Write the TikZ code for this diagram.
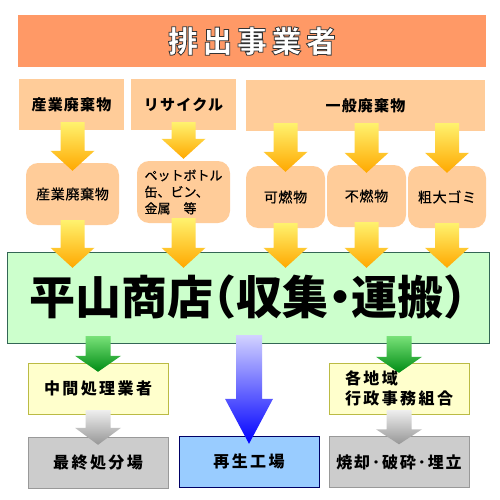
\documentclass[tikz,border=0pt]{standalone}
\usepackage{fontspec}
\setmainfont{Noto Sans CJK JP}
\usetikzlibrary{calc}

\definecolor{bannerorange}{HTML}{FF9966}
\definecolor{peach}{HTML}{FFCC99}
\definecolor{shopgreen}{HTML}{CCFFCC}
\definecolor{shopedge}{HTML}{336655}
\definecolor{midyellow}{HTML}{FFFFCC}
\definecolor{midedge}{HTML}{BBBB44}
\definecolor{endgray}{HTML}{CCCCCC}
\definecolor{endedge}{HTML}{999999}
\definecolor{plantblue}{HTML}{99CCFF}
\definecolor{plantedge}{HTML}{000066}

\newcommand{\bannerfont}{\bfseries\fontsize{30}{32}\selectfont\addfontfeature{LetterSpace=15}}
\newcommand{\catfont}{\bfseries\fontsize{15}{17}\selectfont\addfontfeature{LetterSpace=8}}
\newcommand{\wastefont}{\fontsize{14}{16.5}\selectfont\addfontfeature{LetterSpace=5,FakeBold=0.6}}
\newcommand{\shopfont}{\bfseries\fontsize{46}{48}\selectfont\addfontfeature{CharacterWidth=AlternateHalf}}
\newcommand{\destfont}{\bfseries\fontsize{16}{20}\selectfont\addfontfeature{LetterSpace=15}}
% white letters with a dark rim
\newcommand{\rimtext}[1]{\special{pdf:literal direct 2 Tr 0.8 w 0.2 0.2 0.2 RG}#1\special{pdf:literal direct 0 Tr}}

% block arrow: [shade] {top} {tip} {half shaft} {half head} {head length}
\newcommand{\fatarrow}[6][]{%
  \shade[#1] let \p1=(#2), \p2=(#3) in
    (\x1-#4,\y1) -- (\x1+#4,\y1) -- (\x1+#4,\y2+#6) -- (\x1+#5,\y2+#6)
    -- (\x1,\y2) -- (\x1-#5,\y2+#6) -- (\x1-#4,\y2+#6) -- cycle;
}

\begin{document}
\begin{tikzpicture}[x=1pt, y=-1pt,
  box/.style={inner sep=0pt, minimum height=51pt},
  bannerbox/.style={box, fill=bannerorange, minimum width=468pt, minimum height=52pt, text=white, font=\bannerfont},
  catbox/.style={box, fill=peach, font=\catfont},
  wastebox/.style={box, fill=peach, rounded corners=12pt, minimum height=62pt, font=\wastefont},
  shopbox/.style={box, fill=shopgreen, draw=shopedge, minimum width=482pt, minimum height=91pt, font=\shopfont},
  destbox/.style={box, minimum width=140pt, font=\destfont},
  yellowarrow/.style={top color={rgb,255:red,255;green,242;blue,110}, bottom color={rgb,255:red,255;green,168;blue,0}},
  greenarrow/.style={top color={rgb,255:red,120;green,225;blue,120}, bottom color={rgb,255:red,0;green,140;blue,20}},
  grayarrow/.style={top color={rgb,255:red,238;green,238;blue,238}, bottom color={rgb,255:red,150;green,150;blue,150}},
  bluearrow/.style={top color={rgb,255:red,210;green,210;blue,255}, bottom color={rgb,255:red,0;green,0;blue,255}}
]
\path[use as bounding box, fill=white] (0,0) rectangle (500,500);

\node[bannerbox] (banner) at (252,41) {\rimtext{排出事業者}};

\node[catbox, minimum width=105pt] (indW) at (71.5,104.5) {産業廃棄物};
\node[catbox, minimum width=105pt] (recyc) at (183.5,104.5) {リサイクル};
\node[catbox, minimum width=239pt] (genW) at (365.5,105.5) {一般廃棄物};

\node[wastebox, minimum width=93pt] (rbA) at (72.5,194) {産業廃棄物};
\node[wastebox, minimum width=93pt, align=left, font=\fontsize{13}{16.5}\selectfont\addfontfeature{FakeBold=0.6}] (rbB) at (183.5,192) {ペットボトル\\缶、ビン、\\金属　等};
\node[wastebox, minimum width=79pt] (rbC) at (285.5,197) {可燃物};
\node[wastebox, minimum width=79pt] (rbD) at (366.5,196) {不燃物};
\node[wastebox, minimum width=78pt] (rbE) at (447,197) {粗大ゴミ};

\node[shopbox] (shop) at (248,297.5) {平山商店（収集・運搬）};

\node[destbox, fill=midyellow, draw=midedge] (midP) at (98,388.5) {中間処理業者};
\node[destbox, fill=midyellow, draw=midedge, align=left] (union) at (399,388.5) {各地域\\行政事務組合};
\node[destbox, fill=endgray, draw=endedge] (finalL) at (98,462.5) {最終処分場};
\node[destbox, fill=plantblue, draw=plantedge] (plant) at (249,461.5) {再生工場};
\node[destbox, fill=endgray, draw=endedge, font=\bfseries\fontsize{16}{20}\selectfont\addfontfeature{LetterSpace=12}] (burn) at (399,462) {焼却･破砕･埋立};

% arrows
\foreach \w/\s/\d in {rbA/indW/8, rbB/recyc/-2, rbC/genW/6, rbD/genW/8, rbE/genW/7} {
  \fatarrow[yellowarrow]{$(\w.north |- \s.south)+(0,-8)$}{$(\w.north)+(0,\d)$}{12pt}{22pt}{20pt}
  \fatarrow[yellowarrow]{$(\w.south)+(0,-5)$}{$(\w.south |- shop.north)+(0,16)$}{12pt}{22pt}{20pt}
}

\fatarrow[greenarrow]{$(midP.north |- shop.south)+(0,-7)$}{$(midP.north)+(0,9)$}{12.5pt}{23pt}{16pt}
\fatarrow[greenarrow]{$(union.north |- shop.south)+(0,-7)$}{$(union.north)+(0,10)$}{12.5pt}{23pt}{16pt}

\fatarrow[grayarrow]{$(midP.south)+(0,-4)$}{$(finalL.north)+(0,8)$}{12.5pt}{23pt}{17pt}
\fatarrow[grayarrow]{$(union.south)+(0,-4)$}{$(burn.north)+(0,8)$}{12.5pt}{23pt}{15pt}

\fatarrow[bluearrow]{$(plant.north |- shop.south)+(0,-8)$}{$(plant.north)+(0,8)$}{13pt}{24pt}{45pt}

\end{tikzpicture}
\end{document}
